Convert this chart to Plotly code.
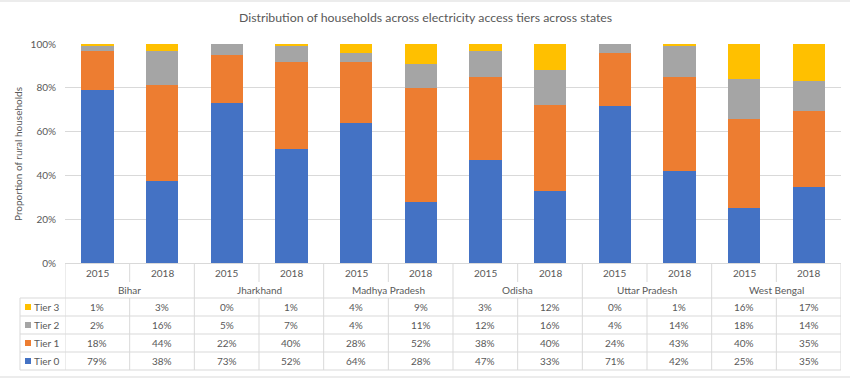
import plotly.graph_objects as go

states = ["Bihar", "Jharkhand", "Madhya Pradesh", "Odisha", "Uttar Pradesh", "West Bengal"]
years = ["2015", "2018"]
tier0 = [79, 38, 73, 52, 64, 28, 47, 33, 71, 42, 25, 35]
tier1 = [18, 44, 22, 40, 28, 52, 38, 40, 24, 43, 40, 35]
tier2 = [2, 16, 5, 7, 4, 11, 12, 16, 4, 14, 18, 14]
tier3 = [1, 3, 0, 1, 4, 9, 3, 12, 0, 1, 16, 17]
series_names = ["Tier 0", "Tier 1", "Tier 2", "Tier 3"]
colors = ["#4472C4", "#ED7D31", "#A5A5A5", "#FFC000"]
yticks = [0, 20, 40, 60, 80, 100]

W, H = 850, 378
L, R, T, B = 65, 841, 44, 263
font = "Lato"
txt = "#595959"
line = "#D9D9D9"

n = len(tier0)
xs = list(range(n))
series = [tier0, tier1, tier2, tier3]

fig = go.Figure()
for name, vals, c in zip(series_names, series, colors):
    fig.add_trace(go.Bar(x=xs, y=vals, name=name, marker=dict(color=c, line=dict(width=0)),
                         width=0.5, showlegend=False))

def py(p):
    return (B - p) / (B - T)

def px(p):
    return (p - L) / (R - L)

shapes = []
ann = []

def note(x, y, text, xref="x", size=10, xanchor="center", **kw):
    ann.append(dict(x=x, y=y, xref=xref, yref="paper", text=text, showarrow=False,
                    xanchor=xanchor, yanchor="middle",
                    font=dict(size=size, color=txt, family=font), **kw))

# outer border lines
shapes.append(dict(type="line", xref="paper", yref="paper", x0=px(0), x1=px(W), y0=py(1), y1=py(1),
                   line=dict(color=line, width=1)))
shapes.append(dict(type="line", xref="paper", yref="paper", x0=px(0), x1=px(W), y0=py(377), y1=py(377),
                   line=dict(color=line, width=1)))

row_tops = [298, 316, 334, 352, 370]
for r in row_tops:
    shapes.append(dict(type="line", xref="paper", yref="paper", x0=px(20), x1=1, y0=py(r), y1=py(r),
                       line=dict(color=line, width=1)))
for i in range(n + 1):
    xv = i - 0.5
    if i % 2 == 0:
        shapes.append(dict(type="line", xref="x", yref="paper", x0=xv, x1=xv, y0=py(263), y1=py(370),
                           line=dict(color=line, width=1)))
    else:
        shapes.append(dict(type="line", xref="x", yref="paper", x0=xv, x1=xv, y0=py(263), y1=py(282),
                           line=dict(color=line, width=1)))
        shapes.append(dict(type="line", xref="x", yref="paper", x0=xv, x1=xv, y0=py(298), y1=py(370),
                           line=dict(color=line, width=1)))
shapes.append(dict(type="line", xref="paper", yref="paper", x0=px(20), x1=px(20), y0=py(298), y1=py(370),
                   line=dict(color=line, width=1)))

for i in xs:
    note(i, py(273), years[i % 2])
for j, s in enumerate(states):
    note(2 * j + 0.5, py(290), s)

order = [3, 2, 1, 0]
for k, si in enumerate(order):
    yc = (row_tops[k] + row_tops[k + 1]) / 2
    for i in xs:
        note(i, py(yc), f"{series[si][i]}%")
    shapes.append(dict(type="rect", xref="paper", yref="paper", x0=px(25), x1=px(31),
                       y0=py(yc - 3), y1=py(yc + 3), fillcolor=colors[si], line=dict(width=0)))
    note(px(31.5), py(yc), series_names[si], xref="paper", xanchor="left")

note(px(W / 2), py(18), "Distribution of households across electricity access tiers across states",
     xref="paper", size=12.3)
note(px(18), py(154), "Proportion of rural households", xref="paper", size=10, textangle=-90)

fig.update_layout(
    width=W, height=H,
    margin=dict(l=L, r=W - R, t=T, b=H - B),
    barmode="stack", barnorm="percent",
    plot_bgcolor="white", paper_bgcolor="white",
    shapes=shapes, annotations=ann,
    xaxis=dict(range=[-0.5, n - 0.5], showticklabels=False, showgrid=False, zeroline=False,
               showline=True, linecolor=line, ticks=""),
    yaxis=dict(range=[0, 100], tickvals=yticks, ticktext=[f"{v}%" for v in yticks],
               showgrid=True, gridcolor=line, zeroline=False, showline=False,
               ticklabelstandoff=8,
               tickfont=dict(size=10, color=txt, family=font)),
)

fig.write_html("out.html", config={"displayModeBar": False},
               post_script="document.body.style.margin='0';document.body.style.padding='0';")
